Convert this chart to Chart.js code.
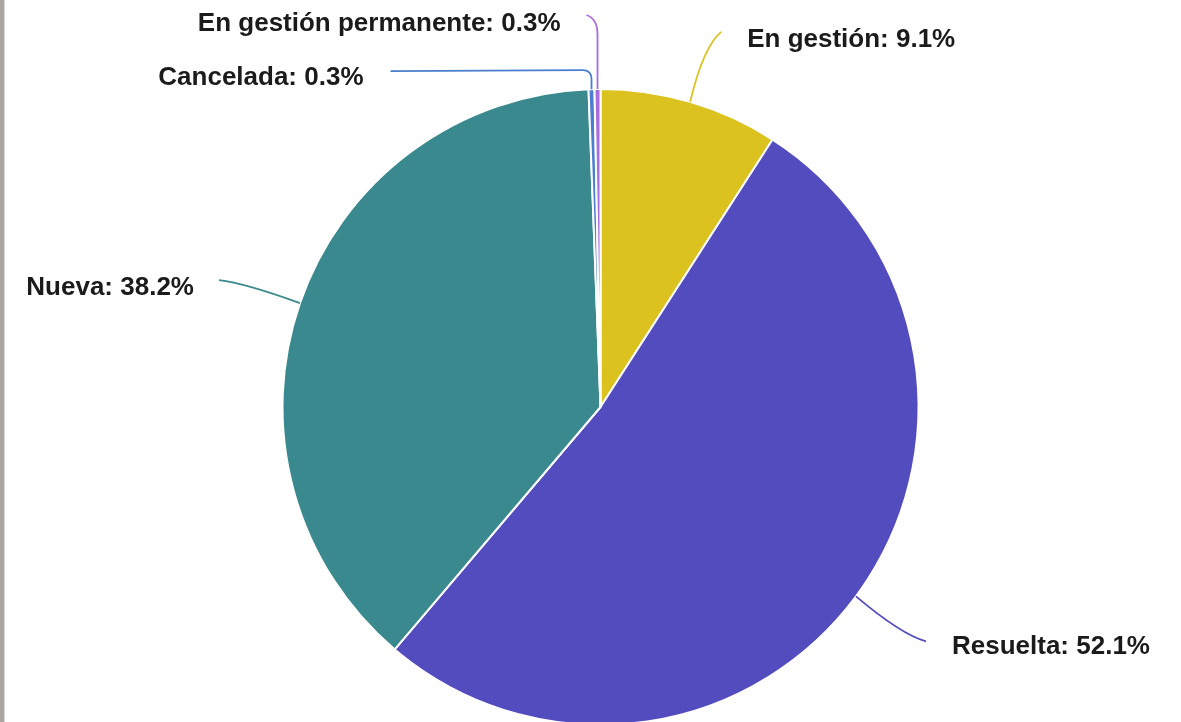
<!DOCTYPE html>
<html lang="es">
<head>
<meta charset="utf-8">
<title>Estado de las solicitudes</title>
<script src="https://cdn.jsdelivr.net/npm/chart.js@4.4.1/dist/chart.umd.min.js"></script>
<style>
  html, body { margin: 0; padding: 0; background: #fff; overflow: hidden; }
  #marco { position: relative; width: 1181px; height: 740px; }
  #borde { position: absolute; left: 0; top: 0; width: 4px; height: 722px; background: #a9a5a1;
           border-right: 1px solid #d9d7d5; z-index: 2; }
</style>
</head>
<body>
<div id="marco">
  <div id="borde"></div>
  <canvas id="grafico"></canvas>
</div>
<script>
// Datos del gráfico
const etiquetas = ['En gestión', 'Resuelta', 'Nueva', 'Cancelada', 'En gestión permanente'];
const porcentajes = [9.1, 52.1, 38.2, 0.3, 0.3];
const colores = ['#dbc21f', '#524cbe', '#3a898e', '#4a7fd0', '#a96ddf'];

// Trazado de las líneas guía, relativo al punto del borde de cada sector
// (L = línea, Q = curva cuadrática), y posición del texto respecto al final
const guias = [
  { tramos: [['Q', 13, -55, 31, -70]], texto: [26, 15], alinear: 'left' },
  { tramos: [['Q', 45, 38, 70, 45]], texto: [26, 13], alinear: 'left' },
  { tramos: [['Q', -55, -20, -81, -23]], texto: [-25, 15], alinear: 'right' },
  { tramos: [['L', 0, -10], ['Q', 0, -19, -9, -19], ['L', -201, -18]], texto: [-27, 14], alinear: 'right' },
  { tramos: [['L', 0, -55], ['Q', 0, -70, -11, -74]], texto: [-26, 16], alinear: 'right' }
];

const etiquetasGuia = {
  id: 'etiquetasGuia',
  afterDatasetsDraw(chart) {
    const ctx = chart.ctx;
    const meta = chart.getDatasetMeta(0);
    ctx.save();
    ctx.font = 'bold 26px "Liberation Sans", Arial, sans-serif';
    ctx.textBaseline = 'alphabetic';
    meta.data.forEach((arco, i) => {
      const g = guias[i];
      const medio = (arco.startAngle + arco.endAngle) / 2;
      const x0 = arco.x + Math.cos(medio) * arco.outerRadius;
      const y0 = arco.y + Math.sin(medio) * arco.outerRadius;
      let fx = x0, fy = y0;

      ctx.beginPath();
      ctx.moveTo(x0, y0);
      g.tramos.forEach(t => {
        if (t[0] === 'L') {
          fx = x0 + t[1]; fy = y0 + t[2];
          ctx.lineTo(fx, fy);
        } else {
          fx = x0 + t[3]; fy = y0 + t[4];
          ctx.quadraticCurveTo(x0 + t[1], y0 + t[2], fx, fy);
        }
      });
      ctx.strokeStyle = colores[i];
      ctx.lineWidth = 1.8;
      ctx.stroke();

      ctx.fillStyle = '#1b1b1b';
      ctx.textAlign = g.alinear;
      ctx.fillText(etiquetas[i] + ': ' + porcentajes[i] + '%', fx + g.texto[0], fy + g.texto[1]);
    });
    ctx.restore();
  }
};

new Chart(document.getElementById('grafico'), {
  type: 'pie',
  data: {
    labels: etiquetas,
    datasets: [{
      data: porcentajes,
      backgroundColor: colores,
      borderColor: '#ffffff',
      borderWidth: 2
    }]
  },
  options: {
    responsive: true,
    maintainAspectRatio: false,
    animation: false,
    radius: 318,
    layout: { padding: { left: 20, right: 0, top: 90, bottom: 16 } },
    plugins: {
      legend: { display: false },
      tooltip: { enabled: false }
    }
  },
  plugins: [etiquetasGuia]
});
</script>
</body>
</html>
